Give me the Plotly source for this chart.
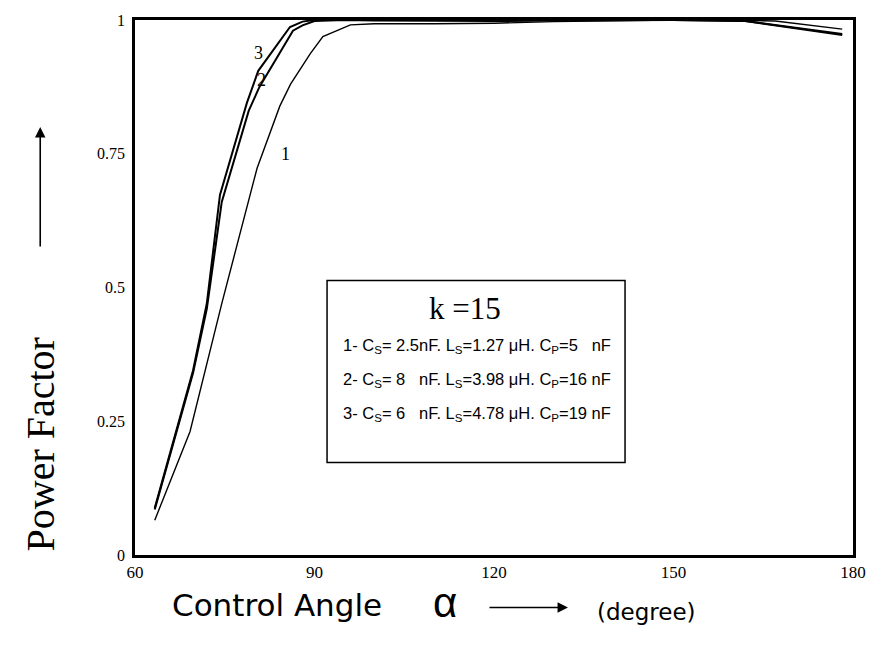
import plotly.graph_objects as go

# Data
alpha1 = [63.3, 69.2, 74.5, 80.4, 84.2, 86.0, 89.3, 91.4, 96.0, 100, 110, 120, 130, 140, 150, 160, 167, 178.2]
pf1 = [0.065, 0.231, 0.47, 0.723, 0.839, 0.88, 0.937, 0.969, 0.991, 0.993, 0.993, 0.994, 0.997, 0.999, 1.0, 1.0, 0.998, 0.983]

alpha2 = [63.3, 69.7, 72.0, 74.5, 79.0, 80.8, 86.4, 88.0, 90, 95, 100, 110, 120, 130, 140, 150, 162, 178.2]
pf2 = [0.085, 0.34, 0.46, 0.66, 0.83, 0.875, 0.98, 0.99, 0.998, 1.0, 0.999, 0.998, 0.998, 0.999, 1.0, 1.0, 0.998, 0.972]

alpha3 = [63.3, 69.7, 72.0, 74.2, 78.7, 80.6, 85.9, 88.0, 90, 95, 100, 110, 120, 130, 140, 150, 162, 178.2]
pf3 = [0.088, 0.345, 0.47, 0.673, 0.845, 0.905, 0.987, 0.997, 1.0, 1.0, 1.0, 0.999, 0.999, 1.0, 1.0, 1.0, 0.998, 0.974]

x_ticks = [60, 90, 120, 150, 180]
y_ticks = [0, 0.25, 0.5, 0.75, 1]
y_tick_text = ["0", "0.25", "0.5", "0.75", "1"]

legend_lines = [
    "1- C<sub>S</sub>= 2.5nF. L<sub>S</sub>=1.27 \u03bcH. C<sub>P</sub>=5   nF",
    "2- C<sub>S</sub>= 8   nF. L<sub>S</sub>=3.98 \u03bcH. C<sub>P</sub>=16 nF",
    "3- C<sub>S</sub>= 6   nF. L<sub>S</sub>=4.78 \u03bcH. C<sub>P</sub>=19 nF",
]

SERIF = "Liberation Serif"
SANS = "Liberation Sans"
WIDE = "DejaVu Sans"

fig = go.Figure()
fig.add_trace(go.Scatter(x=alpha1, y=pf1, mode="lines", line=dict(color="black", width=1.4), showlegend=False))
fig.add_trace(go.Scatter(x=alpha2, y=pf2, mode="lines", line=dict(color="black", width=2), showlegend=False))
fig.add_trace(go.Scatter(x=alpha3, y=pf3, mode="lines", line=dict(color="black", width=2), showlegend=False))

# curve number labels
for txt, x, y in [("3", 80.6, 0.928), ("2", 81.1, 0.876), ("1", 85.1, 0.738)]:
    fig.add_annotation(x=x, y=y, text=txt, showarrow=False, yshift=6,
                       font=dict(family=SERIF, size=18, color="black"))

# legend box
fig.add_shape(type="rect", x0=92.1, x1=141.9, y0=0.173, y1=0.513, line=dict(color="black", width=1.5),
              fillcolor="white", layer="above")
fig.add_annotation(x=115.2, y=0.452, text="k =15", showarrow=False, yshift=5,
                   font=dict(family=SERIF, size=31, color="black"))
for txt, y in zip(legend_lines, [0.391, 0.327, 0.264]):
    fig.add_annotation(x=94.4, y=y, text=txt, showarrow=False, xanchor="left", yanchor="middle",
                       font=dict(family=SANS, size=16.5, color="black"))

# axis titles
fig.add_annotation(xref="paper", yref="paper", x=-0.132, y=0.207, text="Power Factor", textangle=-90,
                   xanchor="center", yanchor="middle",
                   showarrow=False, font=dict(family=SERIF, size=40, color="black"))
fig.add_annotation(xref="paper", yref="paper", x=-0.132, y=0.80, ax=0, ay=121,
                   text="", showarrow=True, arrowhead=2, arrowsize=1.3,
                   arrowwidth=1.6, arrowcolor="black")
fig.add_annotation(xref="paper", yref="paper", x=0.198, y=-0.094, text="Control Angle",
                   xanchor="center", yanchor="middle",
                   showarrow=False, font=dict(family=WIDE, size=31, color="black"))
fig.add_annotation(xref="paper", yref="paper", x=0.432, y=-0.088, text="\u03b1",
                   xanchor="center", yanchor="middle",
                   showarrow=False, font=dict(family=SANS, size=42, color="black"))
fig.add_annotation(xref="paper", yref="paper", x=0.603, y=-0.098, ax=-80, ay=0,
                   text="", showarrow=True, arrowhead=2, arrowsize=1.3,
                   arrowwidth=1.6, arrowcolor="black")
fig.add_annotation(xref="paper", yref="paper", x=0.713, y=-0.107, text="(degree)",
                   xanchor="center", yanchor="middle",
                   showarrow=False, font=dict(family=WIDE, size=23, color="black"))

fig.update_xaxes(range=[60, 180], tickvals=x_ticks, ticktext=[str(v) for v in x_ticks],
                 showgrid=False, zeroline=False, showline=True, linecolor="black", linewidth=2.5,
                 mirror=True, ticks="", tickfont=dict(family=SERIF, size=17, color="black"))
fig.update_yaxes(range=[0, 1], tickvals=y_ticks, ticktext=y_tick_text, ticklabelstandoff=4,
                 showgrid=False, zeroline=False, showline=True, linecolor="black", linewidth=2.5,
                 mirror=True, ticks="", tickfont=dict(family=SERIF, size=16, color="black"))

fig.update_layout(width=881, height=646, margin=dict(l=135, r=28, t=13, b=91),
                  plot_bgcolor="white", paper_bgcolor="white")

fig.write_html("out.html")
